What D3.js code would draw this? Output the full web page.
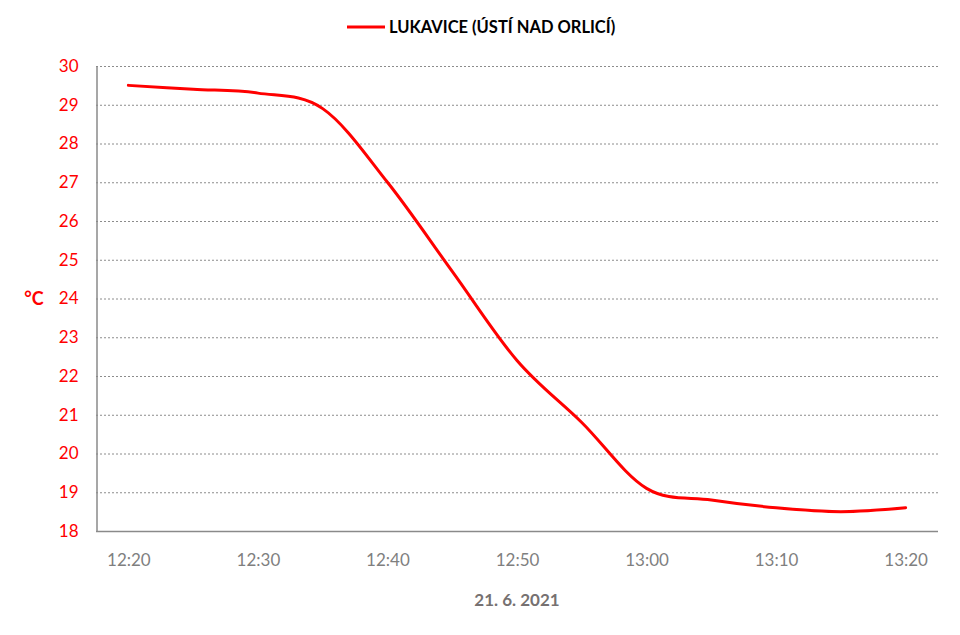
<!DOCTYPE html>
<html>
<head>
<meta charset="utf-8">
<script src="https://cdn.jsdelivr.net/npm/d3@7"></script>
<style>
  html, body { margin: 0; padding: 0; background: #fff; }
  svg { display: block; font-family: Lato, "Open Sans", sans-serif; }
</style>
</head>
<body>
<svg id="chart" width="960" height="635"></svg>
<script>
// ---- data ----
const times = ["12:20","12:25","12:30","12:35","12:40","12:45","12:50","12:55","13:00","13:05","13:10","13:15","13:20"];
const temps = [29.5, 29.4, 29.3, 28.9, 27.0, 24.7, 22.4, 20.8, 19.1, 18.8, 18.6, 18.5, 18.6];
const xTickLabels = ["12:20","12:30","12:40","12:50","13:00","13:10","13:20"];
const yTicks = [18,19,20,21,22,23,24,25,26,27,28,29,30];
const seriesName = "LUKAVICE (ÚSTÍ NAD ORLICÍ)";
const xTitle = "21. 6. 2021";
const yTitle = "°C";

// ---- layout ----
const svg = d3.select("#chart");
const mLeft = 96, mRight = 938, mTop = 66, mBottom = 531;

const x = d3.scalePoint().domain(times).range([mLeft, mRight]).padding(0.5);
const y = d3.scaleLinear().domain([18, 30]).range([mBottom, mTop]);

// gridlines
svg.append("g").selectAll("line")
  .data(yTicks.filter(d => d !== 18))
  .join("line")
  .attr("x1", mLeft).attr("x2", mRight)
  .attr("y1", d => y(d) + 0.5).attr("y2", d => y(d) + 0.5)
  .attr("stroke", "#8c8c8c").attr("stroke-width", 1)
  .attr("stroke-dasharray", "2,2");

// y axis
const yAxis = d3.axisLeft(y).tickValues(yTicks).tickSize(0).tickPadding(18).tickFormat(d3.format("d"));
const gy = svg.append("g").attr("transform", `translate(${mLeft + 0.5},0)`).call(yAxis);
gy.select(".domain").attr("stroke", "#8a8a8a").attr("stroke-width", 1.5);
gy.selectAll("text").attr("fill", "#ff0000").attr("font-size", 17).attr("font-family", "Lato, sans-serif");

// x axis
const xAxis = d3.axisBottom(x).tickValues(xTickLabels).tickSize(0).tickPadding(22);
const gx = svg.append("g").attr("transform", `translate(0,${mBottom + 0.5})`).call(xAxis);
gx.select(".domain").attr("stroke", "#8a8a8a").attr("stroke-width", 1.5)
  .attr("d", `M${mLeft},0H${mRight}`);
gx.selectAll("text").attr("fill", "#7f7f7f").attr("font-size", 17).attr("font-family", "Lato, sans-serif");

// line
const line = d3.line()
  .x((d, i) => x(times[i]))
  .y(d => y(d))
  .curve(d3.curveCardinal.tension(0));
svg.append("path")
  .datum(temps)
  .attr("fill", "none")
  .attr("stroke", "#ff0000")
  .attr("stroke-width", 3)
  .attr("stroke-linecap", "round")
  .attr("d", line);

// axis titles
svg.append("text").attr("x", 517).attr("y", 600).attr("dy", "0.35em")
  .attr("text-anchor", "middle").attr("fill", "#767171")
  .attr("font-weight", "bold").attr("font-size", 17).text(xTitle);
svg.append("text").attr("x", 34).attr("y", 299).attr("dy", "0.35em")
  .attr("text-anchor", "middle").attr("fill", "#ff0000")
  .attr("font-weight", "bold").attr("font-size", 18).text(yTitle);

// legend
const lg = svg.append("g");
lg.append("line").attr("x1", 347).attr("x2", 385).attr("y1", 27).attr("y2", 27)
  .attr("stroke", "#ff0000").attr("stroke-width", 3);
lg.append("text").attr("x", 389).attr("y", 27).attr("dy", "0.35em")
  .attr("fill", "#000").attr("font-weight", "bold").attr("font-size", 16.5)
  .text(seriesName);
</script>
</body>
</html>
